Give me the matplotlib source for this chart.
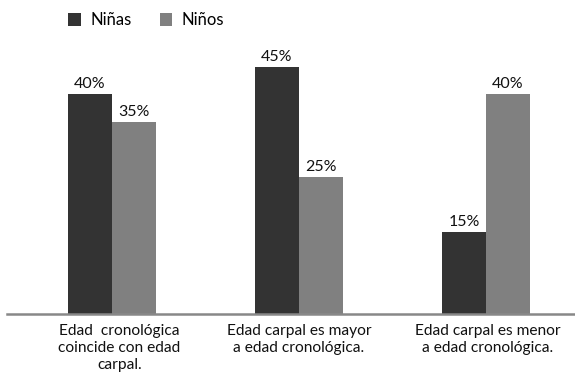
import matplotlib.pyplot as plt
import numpy as np

plt.rcParams['font.family'] = ['Lato', 'DejaVu Sans']

categorias = ['Edad  cronológica\ncoincide con edad\ncarpal.',
              'Edad carpal es mayor\na edad cronológica.',
              'Edad carpal es menor\na edad cronológica.']
ninas = [40, 45, 15]
ninos = [35, 25, 40]

color_ninas = '#333333'
color_ninos = '#808080'

fig = plt.figure(figsize=(5.75, 3.78), dpi=100)
ax = fig.add_axes([0.012, 0.169, 0.988, 0.7275])

x = np.arange(len(categorias))
w = 0.235
b1 = ax.bar(x - w / 2, ninas, w, color=color_ninas, label='Niñas')
b2 = ax.bar(x + w / 2, ninos, w, color=color_ninos, label='Niños')

# etiquetas de porcentaje sobre cada barra
for barras in (b1, b2):
    for r in barras:
        ax.text(r.get_x() + r.get_width() / 2, r.get_height() + 0.5,
                f'{r.get_height():.0f}%', ha='center', va='bottom',
                fontsize=11.5, color='#111111')

ax.set_xlim(-0.561, 2.476)
ax.set_ylim(0, 50)

for s in ['top', 'right', 'left']:
    ax.spines[s].set_visible(False)
ax.spines['bottom'].set_color('#888888')
ax.spines['bottom'].set_linewidth(1.8)
ax.set_yticks([])
ax.set_xticks(x + np.array([0.04, 0.0, 0.01]))
ax.set_xticklabels(categorias, fontsize=11.2, linespacing=1.3, color='#111111')
ax.tick_params(axis='x', length=0, pad=7)

fig.legend(loc='upper left', bbox_to_anchor=(0.093, 1.007), ncol=2,
           frameon=False, fontsize=12, handlelength=0.75, handleheight=0.75,
           columnspacing=1.7, handletextpad=0.55)

fig.savefig('out.png', dpi=100)
